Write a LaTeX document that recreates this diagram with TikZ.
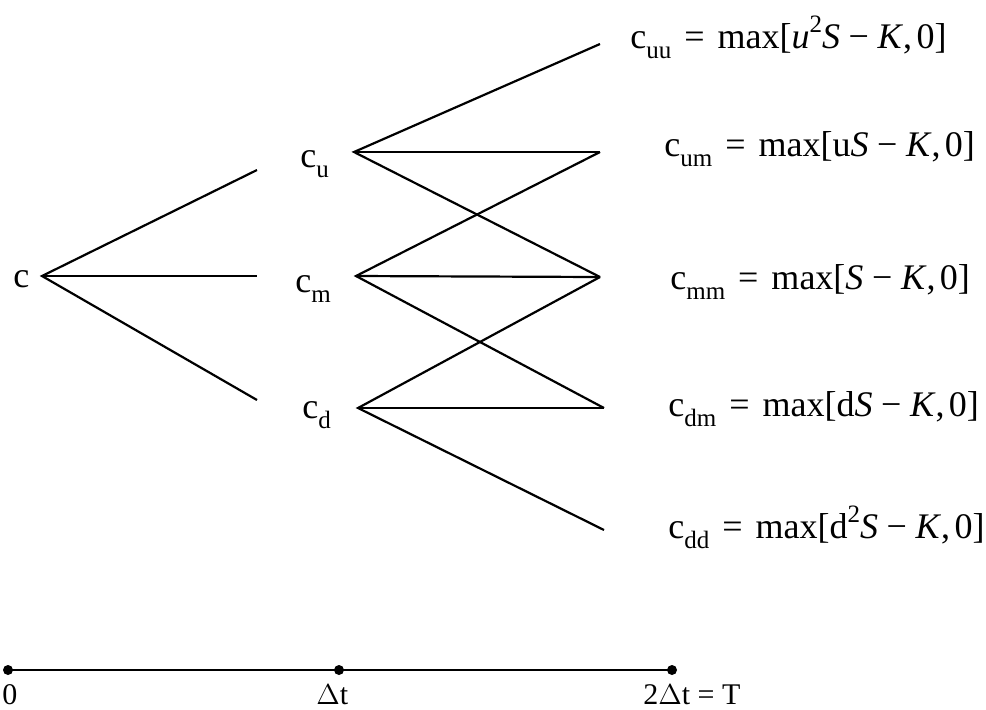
\documentclass[tikz,border=0pt]{standalone}
\usepackage{fontspec}
\setmainfont{Liberation Serif}
\newcommand\csub[1]{\raisebox{-0.28em}{\fontsize{12.5}{14}\selectfont #1}}
\newcommand\csup[1]{\raisebox{0.42em}{\fontsize{12.5}{14}\selectfont #1}}
\newcommand\gapeq{\hspace{0.36em}=\hspace{0.36em}}
\newcommand\gapmi{\hspace{0.24em}−\hspace{0.24em}}
\newcommand\gapco{,\hspace{0.12em}}
\begin{document}
\begin{tikzpicture}[x=0.5pt,y=-0.5pt,
  lbl/.style={inner sep=0pt,font=\fontsize{18}{22}\selectfont},
  axl/.style={inner sep=0pt,font=\fontsize{15}{18}\selectfont},
  br/.style={line width=1.1pt},
  dotn/.style={circle,fill=black,inner sep=0pt,minimum size=5pt}]
\useasboundingbox (0,0) rectangle (986,709);
% vertices
\coordinate (v0) at (42,276);
\coordinate (a1) at (257,170);
\coordinate (a2) at (257,276);
\coordinate (a3) at (257,400);
\coordinate (vu) at (354,152);
\coordinate (vm) at (356,276);
\coordinate (vd) at (358,408);
\coordinate (e1) at (600,44);
\coordinate (e2) at (600,152);
\coordinate (e3) at (600,277);
\coordinate (e4) at (604,408);
\coordinate (e5) at (604,530);
% labels
\node[lbl,anchor=base west] (lc) at (13,287) {c};
\node[lbl,anchor=base west] (lu) at (300,167) {c\csub{u}};
\node[lbl,anchor=base west] (lm) at (295,292) {c\csub{m}};
\node[lbl,anchor=base west] (ld) at (302,418) {c\csub{d}};
\node[lbl,anchor=base west] (luu) at (630,48) {c\csub{uu}\gapeq max[\textit{u}\csup{2}\textit{S}\gapmi\textit{K}\gapco 0]};
\node[lbl,anchor=base west] (lum) at (664,156) {c\csub{um}\gapeq max[u\textit{S}\gapmi\textit{K}\gapco 0]};
\node[lbl,anchor=base west] (lmm) at (670,289) {c\csub{mm}\gapeq max[\textit{S}\gapmi\textit{K}\gapco 0]};
\node[lbl,anchor=base west] (ldm) at (668,416) {c\csub{dm}\gapeq max[d\textit{S}\gapmi\textit{K}\gapco 0]};
\node[lbl,anchor=base west] (ldd) at (668,538) {c\csub{dd}\gapeq max[d\csup{2}\textit{S}\gapmi\textit{K}\gapco 0]};
% branches
\draw[br] (a1) -- (v0) -- (a3);
\draw[br] (v0) -- (a2);
\draw[br] (e1) -- (vu) -- (e3);
\draw[br] (vu) -- (e2);
\draw[br] (e2) -- (vm) -- (e4);
\draw[br] (vm) -- (e3);
\draw[br] (e3) -- (vd) -- (e5);
\draw[br] (vd) -- (e4);
% time axis
\node[dotn] (t0) at (8,670) {};
\node[dotn] (t1) at (339,670) {};
\node[dotn] (t2) at (672,670) {};
\draw[br] (t0.center) -- (t1.center) -- (t2.center);
\node[axl,anchor=base west] (l0) at (2,704) {0};
\node[axl,anchor=base west] (l1) at (316,704) {$\Delta$t};
\node[axl,anchor=base west] (l2) at (643,704) {2$\Delta$t = T};
\end{tikzpicture}
\end{document}
